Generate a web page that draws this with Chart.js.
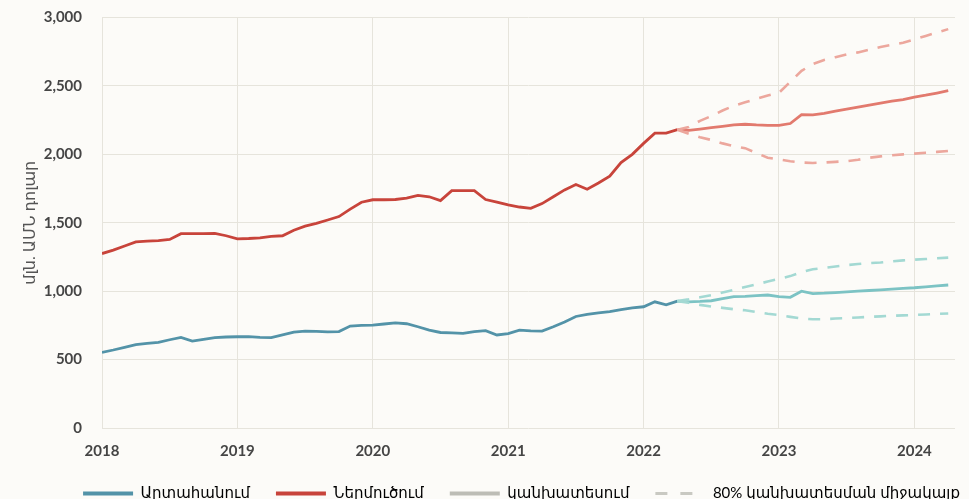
<!DOCTYPE html>
<html>
<head>
<meta charset="utf-8">
<script src="https://cdn.jsdelivr.net/npm/chart.js@4.4.1/dist/chart.umd.min.js"></script>
<style>
  html,body{margin:0;padding:0;background:#fcfbf8;}
  #wrap{width:969px;height:499px;}
</style>
</head>
<body>
<div id="wrap"><canvas id="c" width="969" height="499"></canvas></div>
<script>
// փաստացի ամիսներ (2018-01 ... 2022-04)
const actualMonths=[
  '2018-01','2018-02','2018-03','2018-04','2018-05','2018-06','2018-07','2018-08','2018-09','2018-10','2018-11','2018-12',
  '2019-01','2019-02','2019-03','2019-04','2019-05','2019-06','2019-07','2019-08','2019-09','2019-10','2019-11','2019-12',
  '2020-01','2020-02','2020-03','2020-04','2020-05','2020-06','2020-07','2020-08','2020-09','2020-10','2020-11','2020-12',
  '2021-01','2021-02','2021-03','2021-04','2021-05','2021-06','2021-07','2021-08','2021-09','2021-10','2021-11','2021-12',
  '2022-01','2022-02','2022-03','2022-04'
];
const exportsActual=[
  552,570,590,610,618,625,645,662,635,648,660,665,
  667,668,662,660,680,700,708,706,703,705,745,750,
  752,760,768,762,740,715,698,695,692,705,712,680,
  690,715,710,708,740,775,815,830,842,850,865,878,
  886,922,900,927
];
const importsActual=[
  1275,1300,1330,1360,1365,1370,1378,1420,1420,1420,1422,1405,
  1382,1385,1390,1400,1405,1445,1475,1495,1520,1545,1600,1650,
  1668,1668,1670,1680,1700,1690,1662,1735,1735,1735,1670,1650,
  1630,1615,1605,1640,1690,1740,1780,1745,1790,1840,1940,2000,
  2080,2155,2155,2180
];
// կանխատեսում (2022-04 ... 2024-04)
const forecastMonths=[
  '2022-04','2022-05','2022-06','2022-07','2022-08','2022-09','2022-10','2022-11','2022-12',
  '2023-01','2023-02','2023-03','2023-04','2023-05','2023-06','2023-07','2023-08','2023-09','2023-10','2023-11','2023-12',
  '2024-01','2024-02','2024-03','2024-04'
];
const exportsForecast=[927,922,925,930,945,960,962,968,972,960,955,1000,982,985,990,995,1000,1005,1010,1015,1020,1025,1032,1038,1045];
const exportsUpper=[927,940,955,970,990,1010,1030,1050,1070,1090,1110,1140,1160,1170,1180,1190,1198,1205,1210,1218,1225,1230,1235,1240,1245];
const exportsLower=[927,915,900,888,878,868,860,848,835,825,812,800,795,795,800,803,808,812,816,820,823,826,830,834,837];
const importsForecast=[2180,2175,2185,2195,2205,2215,2220,2215,2212,2212,2225,2290,2288,2300,2315,2330,2345,2360,2375,2388,2400,2418,2432,2448,2465];
const importsUpper=[2180,2200,2245,2280,2320,2355,2380,2405,2430,2450,2530,2610,2660,2690,2710,2730,2745,2765,2785,2800,2815,2840,2865,2890,2915];
const importsLower=[2180,2150,2125,2105,2080,2060,2045,2010,1975,1962,1950,1940,1937,1940,1945,1950,1960,1975,1985,1993,2000,2005,2012,2018,2025];

const yTicks=[0,500,1000,1500,2000,2500,3000];
const xYears=[2018,2019,2020,2021,2022,2023,2024];
const legendNames=['Արտահանում','Ներմուծում','կանխատեսում','80% կանխատեսման միջակայք'];
const yTitle='մլն. ԱՄՆ դոլար';

const C={exp:'#5393a8',imp:'#c8443b',expF:'#7cc3c4',impF:'#e27a6e',expB:'#a3d9d3',impB:'#eca79d',grid:'#e6e4dc',txt:'#454545'};
const FONT='Lato, "DejaVu Sans", sans-serif';

const toX=s=>+s.slice(0,4)+(+s.slice(5)-1)/12;
const pts=(m,v)=>m.map((s,i)=>({x:toX(s),y:v[i]}));

const line=(data,color,dash)=>({data,borderColor:color,backgroundColor:color,borderWidth:dash?2.6:2.8,
  borderDash:dash?[12,10]:[],pointRadius:0,fill:false,tension:0});

// լեգենդը՝ գծապատկերի տիրույթի կենտրոնով, ցածր բարձրությամբ
const legendFix={id:'legendFix',
  beforeLayout(chart){const l=chart.legend;if(l&&!l._fixed){const f=l.fit;l.fit=function(){f.call(this);this.height=39;};l._fixed=true;}},
  afterLayout(chart){const l=chart.legend;if(!l)return;l.left+=44;l.right+=44;}};

new Chart(document.getElementById('c'),{
  type:'line',
  data:{datasets:[
    line(pts(forecastMonths,importsUpper),C.impB,true),
    line(pts(forecastMonths,importsLower),C.impB,true),
    line(pts(forecastMonths,exportsUpper),C.expB,true),
    line(pts(forecastMonths,exportsLower),C.expB,true),
    line(pts(forecastMonths,importsForecast),C.impF),
    line(pts(forecastMonths,exportsForecast),C.expF),
    line(pts(actualMonths,exportsActual),C.exp),
    line(pts(actualMonths,importsActual),C.imp)
  ]},
  options:{responsive:false,animation:false,
    layout:{padding:{top:17.5,right:14,left:0,bottom:0}},
    plugins:{
      tooltip:{enabled:false},
      legend:{position:'bottom',align:'center',onClick:null,
        labels:{usePointStyle:true,pointStyleWidth:50,boxHeight:4,padding:26,color:'#505050',font:{family:FONT,size:15},
          generateLabels:()=>[
            {text:legendNames[0],strokeStyle:C.exp,fillStyle:C.exp,lineWidth:4,pointStyle:'line',lineDash:[]},
            {text:legendNames[1],strokeStyle:C.imp,fillStyle:C.imp,lineWidth:4,pointStyle:'line',lineDash:[]},
            {text:legendNames[2],strokeStyle:'#bdbdb6',fillStyle:'#bdbdb6',lineWidth:4,pointStyle:'line',lineDash:[]},
            {text:legendNames[3],strokeStyle:'#c9c9c2',fillStyle:'#c9c9c2',lineWidth:3,pointStyle:'line',lineDash:[12,13]}
          ]}}
    },
    scales:{
      x:{type:'linear',min:2018,max:2024.3,
        afterBuildTicks:s=>{s.ticks=xYears.map(v=>({value:v}));},
        afterFit:s=>{s.height=32;s.paddingLeft=0;s.paddingRight=0;},
        grid:{color:C.grid,drawTicks:false,lineWidth:1},border:{display:false},
        ticks:{padding:14,color:C.txt,font:{family:FONT,size:15,weight:'bold'},maxRotation:0,callback:v=>String(v)}},
      y:{min:0,max:3000,
        afterBuildTicks:s=>{s.ticks=yTicks.map(v=>({value:v}));},
        afterFit:s=>{s.width=102;s.paddingTop=0;s.paddingBottom=0;},
        grid:{color:C.grid,drawTicks:false,lineWidth:1},border:{display:false},
        title:{display:true,text:yTitle,color:'#555',font:{family:FONT,size:16},padding:{top:20,bottom:0}},
        ticks:{padding:20,color:C.txt,font:{family:FONT,size:15,weight:'bold'},callback:v=>v.toLocaleString('en-US')}}
    }
  },
  plugins:[legendFix]
});
</script>
</body>
</html>
